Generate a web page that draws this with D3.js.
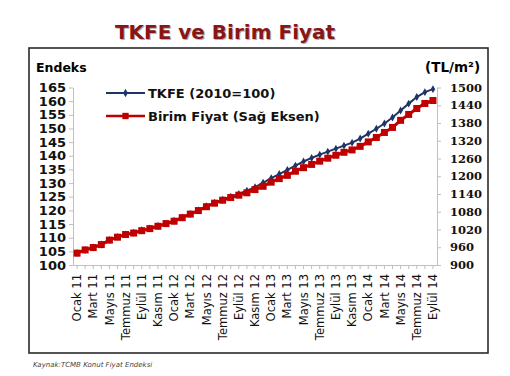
<!DOCTYPE html>
<html>
<head>
<meta charset="utf-8">
<script src="https://cdn.jsdelivr.net/npm/d3@7"></script>
<style>
  body { margin: 0; background: #fff; }
  svg { display: block; }
  .axis path, .axis line { stroke: #bfbfbf; }
</style>
</head>
<body>
<div id="chart"></div>
<script>
// monthly categories, Ocak 2011 - Eylül 2014
const monthNames = ['Ocak', 'Şubat', 'Mart', 'Nisan', 'Mayıs', 'Haziran', 'Temmuz', 'Ağustos', 'Eylül', 'Ekim', 'Kasım', 'Aralık'];
const years = ['11', '12', '13', '14'];
const lastMonthIndex = 8; // Eylül 14

// TKFE (2010=100), left axis
const tkfe = [104.4, 105.5, 106.4, 107.5, 109.2, 110.3, 111.2, 111.8, 112.7, 113.4, 114.3, 115.2,
  116.2, 117.4, 118.7, 120.0, 121.5, 122.8, 123.9, 125.0, 126.0, 127.2, 128.5, 130.1,
  131.8, 133.3, 134.8, 136.4, 137.9, 139.2, 140.4, 141.5, 142.6, 143.7, 144.8, 146.3,
  148.1, 149.9, 151.8, 154.0, 156.6, 159.1, 161.5, 163.3, 164.4];

// Birim Fiyat (TL/m2), right axis
const birimFiyat = [940, 951, 959, 969, 984, 994, 1003, 1008, 1016, 1023, 1031, 1040,
  1048, 1060, 1072, 1084, 1097, 1109, 1119, 1128, 1136, 1144, 1155, 1166,
  1180, 1192, 1203, 1217, 1229, 1240, 1251, 1261, 1271, 1281, 1289, 1301,
  1316, 1331, 1348, 1365, 1389, 1409, 1429, 1446, 1456];

const leftTicks = [100, 105, 110, 115, 120, 125, 130, 135, 140, 145, 150, 155, 160, 165];
const rightTicks = [900, 960, 1020, 1080, 1140, 1200, 1260, 1320, 1380, 1440, 1500];

const seriesNames = ['TKFE (2010=100)', 'Birim Fiyat (Sağ Eksen)'];

class DualAxisChart {

  constructor(_config) {
    this.config = {
      parentElement: _config.parentElement,
      containerWidth: _config.containerWidth || 510,
      containerHeight: _config.containerHeight || 376,
      plot: {left: 73, right: 437, top: 87.5, bottom: 265}
    };
    this.initVis();
  }

  initVis() {
    let vis = this;
    const p = vis.config.plot;

    vis.categories = [];
    years.forEach((y, yi) => {
      monthNames.forEach((m, mi) => {
        if (yi < years.length - 1 || mi <= lastMonthIndex) vis.categories.push(m + ' ' + y);
      });
    });

    vis.svg = d3.select(vis.config.parentElement).append('svg')
        .attr('width', vis.config.containerWidth)
        .attr('height', vis.config.containerHeight);

    // title with a soft shadow
    vis.svg.append('text')
        .attr('x', 226).attr('y', 39.5)
        .attr('text-anchor', 'middle')
        .style('font', 'bold 20px "DejaVu Sans"')
        .attr('fill', '#555').attr('opacity', 0.45)
        .text('TKFE ve Birim Fiyat');
    vis.svg.append('text')
        .attr('x', 225).attr('y', 38.5)
        .attr('text-anchor', 'middle')
        .style('font', 'bold 20px "DejaVu Sans"')
        .attr('fill', '#8a1515')
        .text('TKFE ve Birim Fiyat');

    // outer frame
    vis.svg.append('rect')
        .attr('x', 29).attr('y', 48)
        .attr('width', 459).attr('height', 305)
        .attr('fill', 'none')
        .attr('stroke', '#2a2a2a')
        .attr('stroke-width', 1.6);

    vis.svg.append('text')
        .attr('x', 36).attr('y', 72)
        .style('font', 'bold 12.5px "DejaVu Sans"')
        .text('Endeks');

    vis.svg.append('text')
        .attr('x', 425).attr('y', 72)
        .style('font', 'bold 13.5px "DejaVu Sans"')
        .text('(TL/m²)');

    vis.xScale = d3.scaleBand()
        .domain(vis.categories)
        .range([p.left, p.right]);

    vis.yLeft = d3.scaleLinear().domain([100, 165]).range([p.bottom, p.top]);
    vis.yRight = d3.scaleLinear().domain([900, 1500]).range([p.bottom, p.top]);

    const xc = d => vis.xScale(d) + vis.xScale.bandwidth() / 2;

    // axes
    const leftAxis = vis.svg.append('g')
        .attr('class', 'axis')
        .attr('transform', `translate(${p.left},0)`)
        .call(d3.axisLeft(vis.yLeft).tickValues(leftTicks).tickSize(4).tickSizeOuter(0).tickPadding(3));
    leftAxis.selectAll('text')
        .style('font', 'bold 13px "DejaVu Sans"')
        .attr('fill', '#111');

    const rightAxis = vis.svg.append('g')
        .attr('class', 'axis')
        .attr('transform', `translate(${p.right},0)`)
        .call(d3.axisRight(vis.yRight).tickValues(rightTicks).tickFormat(d3.format('d'))
          .tickSize(4).tickSizeOuter(0).tickPadding(9));
    rightAxis.selectAll('text')
        .style('font', 'bold 11.5px "DejaVu Serif"')
        .attr('fill', '#111');

    const xAxis = vis.svg.append('g')
        .attr('class', 'axis')
        .attr('transform', `translate(0,${p.bottom})`)
        .call(d3.axisBottom(vis.xScale).tickSize(4).tickSizeOuter(0)
          .tickFormat((d, i) => i % 2 === 0 ? d : ''));
    xAxis.selectAll('text')
        .attr('transform', 'rotate(-90)')
        .attr('text-anchor', 'end')
        .attr('x', -9).attr('y', 0).attr('dy', '0.36em')
        .style('font', '11.5px "DejaVu Sans"')
        .attr('fill', '#111');

    // series
    const tkfeData = vis.categories.map((c, i) => ({c: c, v: tkfe[i]}));
    const bfData = vis.categories.map((c, i) => ({c: c, v: birimFiyat[i]}));

    const tkfeLine = d3.line().x(d => xc(d.c)).y(d => vis.yLeft(d.v));
    const bfLine = d3.line().x(d => xc(d.c)).y(d => vis.yRight(d.v));

    const navy = '#1f3566';
    const red = '#c00000';

    vis.svg.append('path')
        .datum(tkfeData)
        .attr('fill', 'none').attr('stroke', navy).attr('stroke-width', 2)
        .attr('d', tkfeLine);
    vis.svg.append('g').selectAll('path')
        .data(tkfeData)
      .join('path')
        .attr('transform', d => `translate(${xc(d.c)},${vis.yLeft(d.v)})`)
        .attr('d', d3.symbol(d3.symbolDiamond, 18))
        .attr('fill', navy);

    vis.svg.append('path')
        .datum(bfData)
        .attr('fill', 'none').attr('stroke', red).attr('stroke-width', 3)
        .attr('d', bfLine);
    vis.svg.append('g').selectAll('rect')
        .data(bfData)
      .join('rect')
        .attr('x', d => xc(d.c) - 3.5)
        .attr('y', d => vis.yRight(d.v) - 3.5)
        .attr('width', 7).attr('height', 7)
        .attr('fill', red);

    // legend
    const legend = vis.svg.append('g');
    const legendRows = [
      {name: seriesNames[0], color: navy, y: 93, marker: 'diamond'},
      {name: seriesNames[1], color: red, y: 116, marker: 'square'}
    ];
    const rows = legend.selectAll('g').data(legendRows).join('g')
        .attr('transform', d => `translate(0,${d.y})`);
    rows.append('line')
        .attr('x1', 106).attr('x2', 145)
        .attr('stroke', d => d.color)
        .attr('stroke-width', d => d.marker === 'square' ? 2.5 : 2);
    rows.append('path')
        .attr('transform', 'translate(125.5,0)')
        .attr('d', d => d.marker === 'square' ? d3.symbol(d3.symbolSquare, 40)() : d3.symbol(d3.symbolDiamond, 20)())
        .attr('fill', d => d.color);
    rows.append('text')
        .attr('x', 148).attr('dy', '0.36em')
        .style('font', 'bold 13px "DejaVu Sans"')
        .attr('fill', '#111')
        .text(d => d.name);

    // source note
    vis.svg.append('text')
        .attr('x', 33).attr('y', 367)
        .style('font', 'italic 7px "DejaVu Sans"')
        .attr('fill', '#444')
        .text('Kaynak:TCMB Konut Fiyat Endeksi');
  }
}

new DualAxisChart({parentElement: '#chart'});
</script>
</body>
</html>
